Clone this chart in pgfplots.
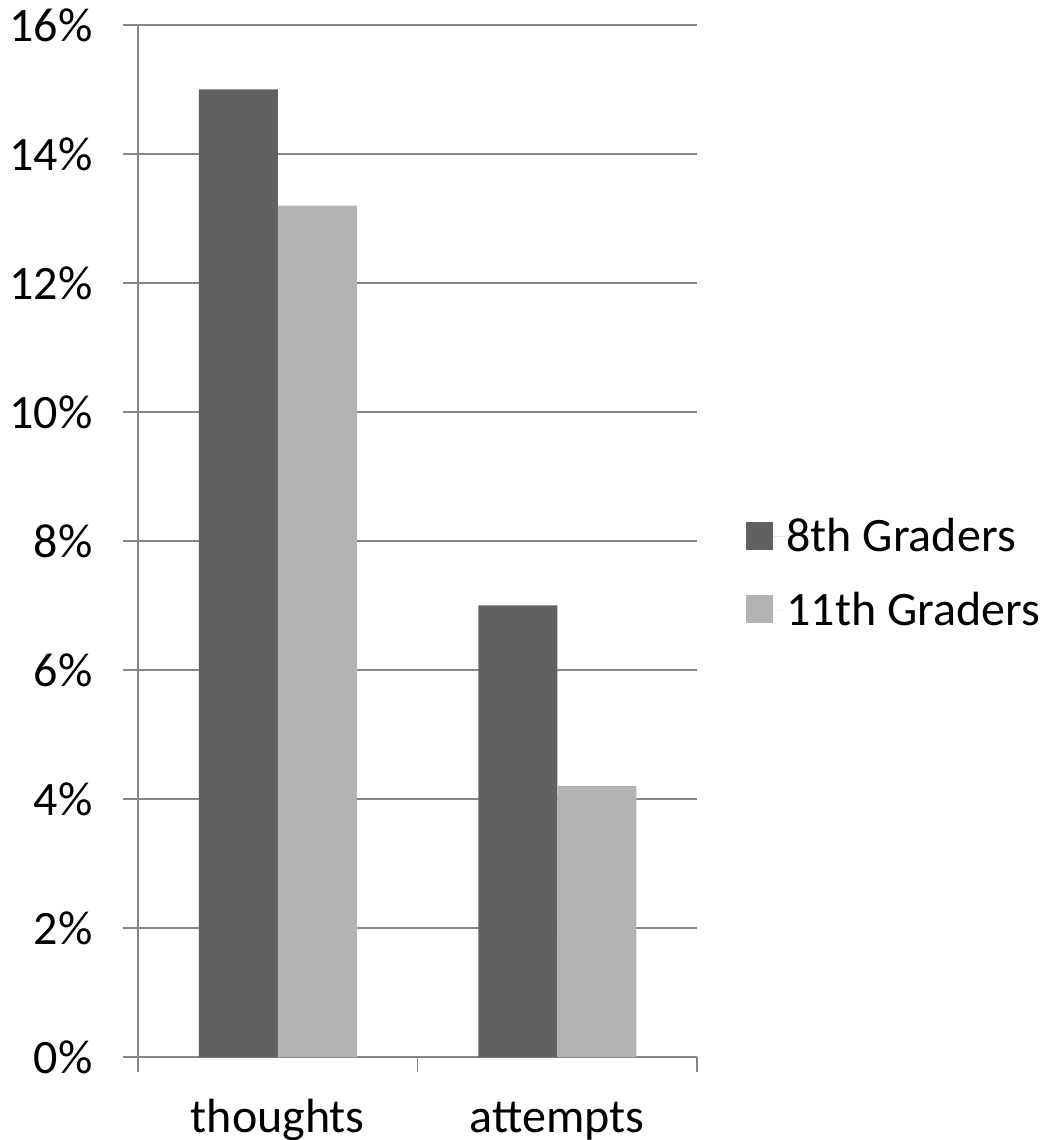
\documentclass[border=0pt]{standalone}
\usepackage{pgfplots}
\pgfplotsset{compat=1.18}
\usepackage{fontspec}
\setmainfont{Carlito}
\definecolor{darkbar}{RGB}{97,97,97}
\definecolor{lightbar}{RGB}{179,179,179}
\definecolor{gridgray}{RGB}{134,134,134}
\begin{document}
\begin{tikzpicture}
\useasboundingbox (0,0) rectangle (528pt,570pt);
\begin{axis}[
  at={(69pt,41.5pt)}, anchor=south west,
  scale only axis, width=279.5pt, height=516pt,
  xmin=0, xmax=2, ymin=0, ymax=16,
  ybar=0pt, bar width=39.5pt,
  axis x line*=bottom, axis y line*=left,
  axis line style={-, draw=gridgray, line width=0.9pt},
  ymajorgrids, grid style={draw=gridgray, line width=0.9pt},
  tick align=outside, major tick length=7.5pt,
  tick style={draw=gridgray, line width=0.9pt},
  ytick={0,2,4,6,8,10,12,14,16},
  yticklabels={0\%,2\%,4\%,6\%,8\%,10\%,12\%,14\%,16\%},
  yticklabel style={font=\fontsize{24}{29}\selectfont, anchor=east, inner sep=0pt, xshift=-15pt},
  xtick={0,1,2}, xticklabels={},
  extra x ticks={0.5,1.5},
  extra x tick labels={thoughts,attempts},
  extra x tick style={major tick length=0pt, grid=none,
     xticklabel style={font=\fontsize{24}{29}\selectfont, anchor=base, inner sep=0pt, yshift=-37.5pt}},
  legend style={at={(1.0877,0.4685)}, anchor=west, draw=none, fill=none,
     inner sep=0pt, row sep=18.5pt, font=\fontsize{24}{29}\selectfont,
     nodes={inner sep=0pt}},
  legend cell align=left,
  legend image code/.code={\fill[#1,draw=none] (0pt,-6.5pt) rectangle (13.5pt,7.5pt); \path (0pt,0pt) -- (20pt,0pt);},
]
\addplot[fill=darkbar, draw=none] coordinates {(0.5,15.0) (1.5,7.0)};
\addplot[fill=lightbar, draw=none] coordinates {(0.5,13.2) (1.5,4.2)};
\legend{8th Graders, 11th Graders}
\end{axis}
\end{tikzpicture}
\end{document}
